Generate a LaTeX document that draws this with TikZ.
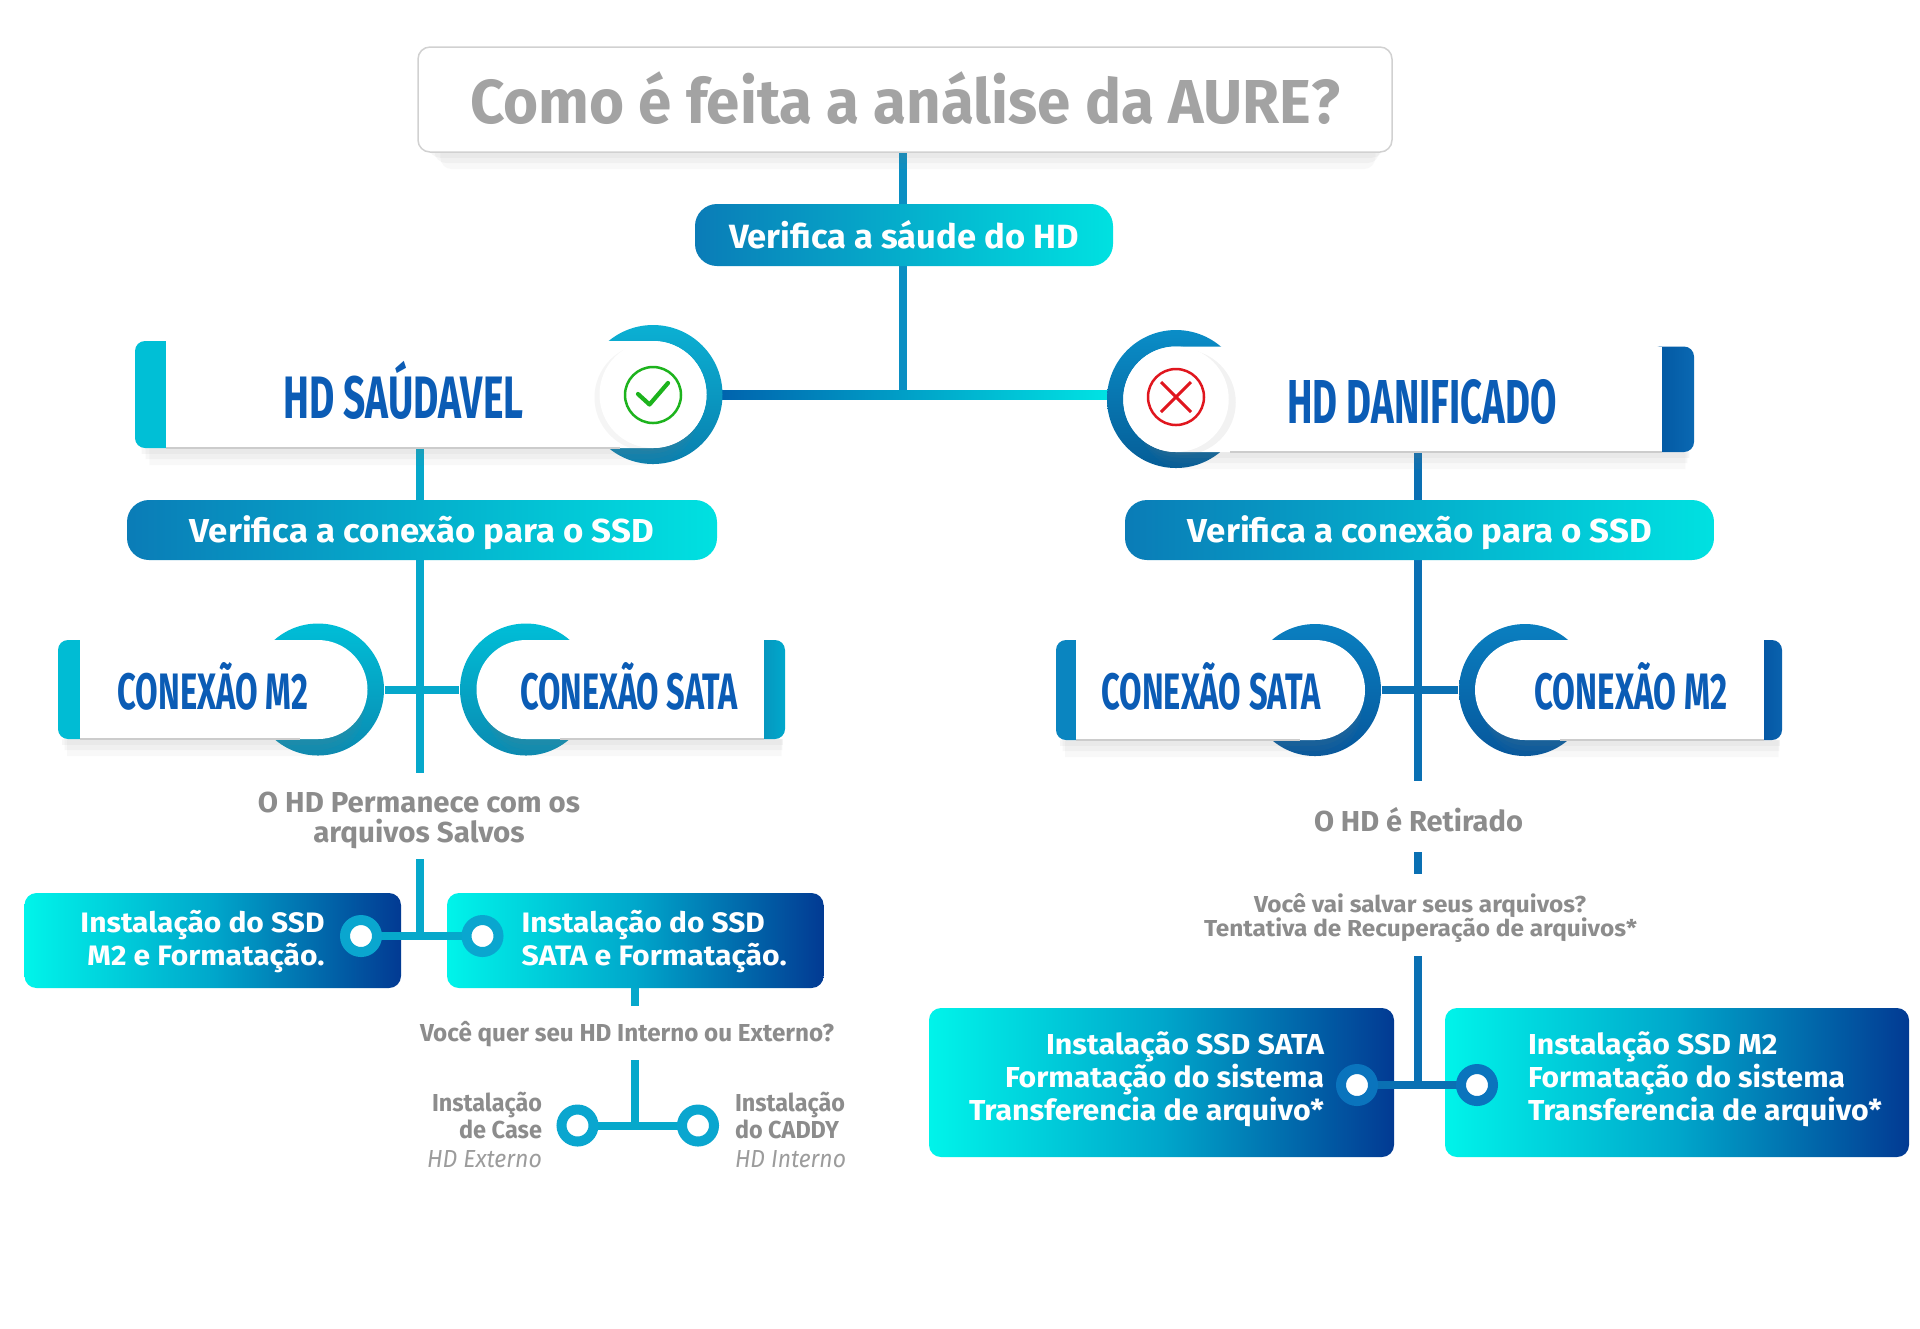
\documentclass[tikz,border=0pt]{standalone}
\usepackage{fontspec}
\usepackage{graphicx}
\setmainfont{Fira Sans}
\usetikzlibrary{shadows,calc}
\newcommand{\fitt}[3]{\resizebox{#1}{#2}{\raisebox{0pt}[\fontcharht\font`\H][0pt]{#3}}}
\definecolor{hblue}{HTML}{0B5CB5}
\definecolor{tgray}{HTML}{8C8C8C}
\definecolor{titlegray}{HTML}{A3A3A3}
\definecolor{lgray}{HTML}{9C9C9C}
\definecolor{pillL}{HTML}{0A7CB7}
\definecolor{pillR}{HTML}{00E1E1}
\definecolor{boxA}{HTML}{00F4EA}
\definecolor{boxB}{HTML}{00A7CB}
\definecolor{boxC}{HTML}{023A93}
\definecolor{tealc}{HTML}{06A8CB}
\definecolor{trunkc}{HTML}{0A8FC3}
\definecolor{rbluec}{HTML}{0A70B3}
\definecolor{hlineL}{HTML}{0062AD}
\definecolor{hlineR}{HTML}{00E4E4}
\definecolor{dotT}{HTML}{0AA6CF}
\definecolor{dotB}{HTML}{0A74BD}
\definecolor{tabS}{HTML}{00BFD6}
\definecolor{tabMtwoL}{HTML}{00BCD4}
\definecolor{tabSALa}{HTML}{0A8CB6}
\definecolor{tabSALb}{HTML}{00A8CC}
\definecolor{tabSAR}{HTML}{0A85C0}
\definecolor{tabMtwoRa}{HTML}{004E9C}
\definecolor{tabMtwoRb}{HTML}{0A62AE}
\definecolor{tabDana}{HTML}{00559F}
\definecolor{tabDanb}{HTML}{0A68B2}
\definecolor{ringAt}{HTML}{0BB0D3}
\definecolor{ringAb}{HTML}{0A7FAE}
\definecolor{ringBt}{HTML}{0A8DC7}
\definecolor{ringBb}{HTML}{055D97}
\definecolor{ringCt}{HTML}{00BED7}
\definecolor{ringCb}{HTML}{0A8AB1}
\definecolor{ringDt}{HTML}{0A7FC0}
\definecolor{ringDb}{HTML}{06579C}
\definecolor{okgreen}{HTML}{1DB31D}
\definecolor{xred}{HTML}{E0161E}
\pgfdeclarelayer{back}
\pgfsetlayers{back,main}
\tikzset{
  conn/.style={line width=0.8mm},
  shadowed/.style={drop shadow={opacity=0.07, shadow scale=0.98, shadow xshift=0.1mm, shadow yshift=-0.7mm},
                   drop shadow={opacity=0.06, shadow scale=0.97, shadow xshift=0.2mm, shadow yshift=-1.3mm},
                   drop shadow={opacity=0.05, shadow scale=0.96, shadow xshift=0.3mm, shadow yshift=-2.0mm}},
  edgeline/.style={black!20, line width=0.15mm},
  lbl/.style={inner sep=0, outer sep=0},
  bt/.style={lbl, font=\bfseries, text=white},
  gt/.style={lbl, font=\bfseries, text=tgray},
  ht/.style={lbl, font=\bfseries, text=hblue},
  itx/.style={lbl, font=\itshape, text=lgray},
  pill/.style={rounded corners=2.2mm, left color=pillL, right color=pillR, inner sep=0},
  gbox/.style={rounded corners=1.2mm, left color=boxA, right color=boxC, middle color=boxB, inner sep=0},
  dotnode/.style={circle, fill=white, line width=1mm, minimum size=3.2mm, inner sep=0},
  ringnode/.style={circle, inner sep=0},
}
\begin{document}
\begin{tikzpicture}[x=0.1mm,y=-0.1mm]
\begin{pgfonlayer}{back}
\fill[white] (0,0) rectangle (1920,1328);
\end{pgfonlayer}
\useasboundingbox (0,0) rectangle (1920,1328);

% ---------- title ----------
\node[draw=black!18, line width=0.15mm, fill=white, rounded corners=1.2mm, minimum width=97.4mm, minimum height=10.5mm, inner sep=0, shadowed] (title) at (905,99.5) {};
\node[lbl, font=\bfseries, text=titlegray, anchor=base] (titleT) at (905,123) {\fitt{87mm}{4.3mm}{Como é feita a análise da AURE?}};

% ---------- pill 1 ----------
\node[pill, minimum width=41.8mm, minimum height=6.2mm] (pill1) at (904,235) {};
\node[bt, anchor=base] (pill1T) at (904,248) {\fitt{35mm}{2.33mm}{Verifica a sáude do HD}};
\coordinate (jtop) at (903,394);

% ---------- HD SAUDAVEL ----------
\node[ringnode, minimum size=13.9mm, top color=ringAt, bottom color=ringAb] (rS) at (653,394.5) {};
\fill[white, shadowed] (135,341) -- (653,341) arc[start angle=-90, end angle=90, radius=53.5] -- (135,448) -- cycle;
\fill[tabS, rounded corners=1mm] (135,341) rectangle (180,448);
\fill[white] (166,341) rectangle (620,448);
\draw[edgeline] (166,448) -- (620,448);
\fill[white, drop shadow={opacity=0.08, shadow xshift=-0.5mm, shadow yshift=-0.3mm}] (653,394.5) circle[radius=53.5];
\draw[okgreen, line width=0.25mm] (653,395) circle[radius=28];
\draw[okgreen, line width=0.42mm, line cap=round, line join=round] (638,394) -- (649.5,404.5) -- (668,383);
\node[ht, anchor=base] (sauT) at (403.5,418.5) {\fitt{24mm}{4.15mm}{HD SAÚDAVEL}};

% ---------- HD DANIFICADO ----------
\node[ringnode, minimum size=13.8mm, top color=ringBt, bottom color=ringBb] (rD) at (1176,399) {};
\fill[white, shadowed] (1176,346.5) -- (1694,346.5) -- (1694,452) -- (1176,452) arc[start angle=90, end angle=270, radius=52.75] -- cycle;
\shade[left color=tabDana, right color=tabDanb, rounded corners=1mm] (1650,346.5) rectangle (1694,452);
\fill[white] (1230,346.5) rectangle (1662,452);
\draw[edgeline] (1230,452) -- (1662,452);
\fill[white, drop shadow={opacity=0.10, shadow xshift=0.7mm, shadow yshift=-0.3mm}] (1176,399.25) circle[radius=52.75];
\draw[xred, line width=0.25mm] (1176,397) circle[radius=28];
\draw[xred, line width=0.3mm] (1161,382) -- (1191,412) (1161,412) -- (1191,382);
\node[ht, anchor=base] (danT) at (1422,423.5) {\fitt{26.9mm}{4.3mm}{HD DANIFICADO}};

% ---------- verifica pills ----------
\node[pill, minimum width=59mm, minimum height=6mm] (pillL) at (422,530) {};
\node[bt, anchor=base] (pillLT) at (422,542) {\fitt{46.4mm}{2.3mm}{Verifica a conexão para o SSD}};
\node[pill, minimum width=58.9mm, minimum height=6mm] (pillR) at (1419.5,530) {};
\node[bt, anchor=base] (pillRT) at (1420,542) {\fitt{46.4mm}{2.3mm}{Verifica a conexão para o SSD}};

% ---------- conexao boxes, left group ----------
\node[ringnode, minimum size=13.2mm, top color=ringCt, bottom color=ringCb] (rMtwoL) at (318,689.5) {};
\fill[white, shadowed] (58,640) -- (318,640) arc[start angle=-90, end angle=90, radius=49.5] -- (58,739) -- cycle;
\fill[tabMtwoL, rounded corners=1mm] (58,640) rectangle (95,739);
\fill[white] (80,640) rectangle (300,739);
\draw[edgeline] (80,739) -- (300,739);
\node[ht, anchor=base] (mtwoLT) at (213,709) {\fitt{19.1mm}{3.55mm}{CONEXÃO M2}};

\node[ringnode, minimum size=13.2mm, top color=ringCt, bottom color=ringCb] (rSAL) at (526,689.5) {};
\fill[white, shadowed] (526,640) -- (785,640) -- (785,739) -- (526,739) arc[start angle=90, end angle=270, radius=49.5] -- cycle;
\shade[left color=tabSALa, right color=tabSALb, rounded corners=1mm] (750,640) rectangle (785,739);
\fill[white] (560,640) rectangle (764,739);
\draw[edgeline] (560,739) -- (764,739);
\node[ht, anchor=base] (saLT) at (629,709) {\fitt{21.8mm}{3.55mm}{CONEXÃO SATA}};

% ---------- conexao boxes, right group ----------
\node[ringnode, minimum size=13.2mm, top color=ringDt, bottom color=ringDb] (rSAR) at (1315,690) {};
\fill[white, shadowed] (1056,640) -- (1315,640) arc[start angle=-90, end angle=90, radius=50] -- (1056,740) -- cycle;
\fill[tabSAR, rounded corners=1mm] (1056,640) rectangle (1092,740);
\fill[white] (1076,640) rectangle (1300,740);
\draw[edgeline] (1076,740) -- (1300,740);
\node[ht, anchor=base] (saRT) at (1211,709) {\fitt{21.9mm}{3.55mm}{CONEXÃO SATA}};

\node[ringnode, minimum size=13.2mm, top color=ringDt, bottom color=ringDb] (rMtwoR) at (1525,690) {};
\fill[white, shadowed] (1525,640) -- (1782,640) -- (1782,740) -- (1525,740) arc[start angle=90, end angle=270, radius=50] -- cycle;
\shade[left color=tabMtwoRa, right color=tabMtwoRb, rounded corners=1mm] (1746,640) rectangle (1782,740);
\fill[white] (1560,640) rectangle (1764,740);
\draw[edgeline] (1560,740) -- (1764,740);
\node[ht, anchor=base] (mtwoRT) at (1631,709) {\fitt{19.3mm}{3.55mm}{CONEXÃO M2}};

% ---------- gray texts ----------
\node[gt, anchor=base] (permA) at (419,812) {\fitt{32.2mm}{2mm}{O HD Permanece com os}};
\node[gt, anchor=base] (permB) at (419,842) {\fitt{21.15mm}{2mm}{arquivos Salvos}};
\node[gt, anchor=base] (retT) at (1418.5,831) {\fitt{20.9mm}{2mm}{O HD é Retirado}};
\node[gt, anchor=base] (salvA) at (1420,912) {\fitt{33.2mm}{1.6mm}{Você vai salvar seus arquivos?}};
\node[gt, anchor=base] (salvB) at (1420.5,936) {\fitt{43.3mm}{1.6mm}{Tentativa de Recuperação de arquivos*}};
\node[gt, anchor=base] (querT) at (627,1041) {\fitt{41.4mm}{1.7mm}{Você quer seu HD Interno ou Externo?}};
\node[gt, anchor=base east] (caseA) at (542,1111) {\fitt{11mm}{1.7mm}{Instalação}};
\node[gt, anchor=base east] (caseB) at (542,1138.5) {\fitt{8.3mm}{1.7mm}{de Case}};
\node[itx, anchor=base east] (caseC) at (542,1167) {\fitt{11.5mm}{1.7mm}{HD Externo}};
\node[gt, anchor=base west] (cadA) at (735,1111) {\fitt{11mm}{1.7mm}{Instalação}};
\node[gt, anchor=base west] (cadB) at (735,1138.5) {\fitt{10.4mm}{1.7mm}{do CADDY}};
\node[itx, anchor=base west] (cadC) at (735,1167) {\fitt{11.1mm}{1.7mm}{HD Interno}};

% ---------- gradient boxes ----------
\node[gbox, minimum width=37.65mm, minimum height=9.5mm] (bone) at (212.75,940.5) {};
\node[gbox, minimum width=37.66mm, minimum height=9.5mm] (btwo) at (635.3,940.5) {};
\node[gbox, minimum width=46.5mm, minimum height=14.9mm] (bthree) at (1161.5,1082.5) {};
\node[gbox, minimum width=46.4mm, minimum height=14.9mm] (bfour) at (1677,1082.5) {};

\node[bt, anchor=base east] (boneA) at (324.5,932) {\fitt{24.4mm}{1.95mm}{Instalação do SSD}};
\node[bt, anchor=base east] (boneB) at (324.5,965) {\fitt{23.7mm}{1.95mm}{M2 e Formatação.}};
\node[bt, anchor=base west] (btwoA) at (521.7,932) {\fitt{24.3mm}{1.95mm}{Instalação do SSD}};
\node[bt, anchor=base west] (btwoB) at (521.7,965) {\fitt{26.5mm}{1.95mm}{SATA e Formatação.}};

\node[bt, anchor=base east] (bthreeA) at (1324,1054) {\fitt{27.8mm}{2mm}{Instalação SSD SATA}};
\node[bt, anchor=base east] (bthreeB) at (1324,1087) {\fitt{31.9mm}{2mm}{Formatação do sistema}};
\node[bt, anchor=base east] (bthreeC) at (1324,1120) {\fitt{35.5mm}{2mm}{Transferencia de arquivo*}};
\node[bt, anchor=base west] (bfourA) at (1528,1054) {\fitt{24.95mm}{2mm}{Instalação SSD M2}};
\node[bt, anchor=base west] (bfourB) at (1528,1087) {\fitt{31.7mm}{2mm}{Formatação do sistema}};
\node[bt, anchor=base west] (bfourC) at (1528,1120) {\fitt{35.4mm}{2mm}{Transferencia de arquivo*}};

% ---------- dots and their links ----------
\coordinate (cone) at (361,936);
\coordinate (ctwo) at (482.5,936);
\coordinate (cthree) at (577.5,1125.5);
\coordinate (cfour) at (698,1125.5);
\coordinate (cfive) at (1357,1085);
\coordinate (csix) at (1477,1085);
\draw[conn, tealc] (cone) -- (ctwo);
\draw[conn, tealc] (cthree) -- (cfour);
\draw[conn, rbluec] (cfive) -- (csix);
\node[dotnode, draw=dotT] (done) at (cone) {};
\node[dotnode, draw=dotT] (dtwo) at (ctwo) {};
\node[dotnode, draw=dotT] (dthree) at (cthree) {};
\node[dotnode, draw=dotT] (dfour) at (cfour) {};
\node[dotnode, draw=dotB] (dfive) at (cfive) {};
\node[dotnode, draw=dotB] (dsix) at (csix) {};

% ---------- connectors behind ----------
\coordinate (lTop) at (420,448);
\coordinate (lEnd) at (420,773);
\coordinate (rTop) at (1418,452);
\coordinate (rEnd) at (1418,781);
\coordinate (rDa) at (1418,852);
\coordinate (rDb) at (1418,874);
\coordinate (rLow) at (1418,956);
\coordinate (lLow) at (420,859);
\coordinate (qA) at (635,985);
\coordinate (qB) at (635,1006);
\coordinate (qC) at (635,1060);
\begin{pgfonlayer}{back}
\draw[conn, trunkc] (title.south -| jtop) -- (jtop);
\shade[left color=hlineL, right color=hlineR] ($(rS.east)+(-5,-4.5)$) rectangle ($(rD.west |- rS.east)+(5,4.5)$);
\draw[conn, tealc] (lTop) -- (lEnd);
\draw[conn, tealc] (rMtwoL.east) -- (rSAL.west);
\draw[conn, rbluec] (rTop) -- (rEnd);
\draw[conn, rbluec] (rSAR.east) -- (rMtwoR.west);
\draw[conn, rbluec] (rDa) -- (rDb);
\draw[conn, rbluec] (rLow) -- (cfive -| rLow);
\draw[conn, tealc] (lLow) -- (cone -| lLow);
\draw[conn, tealc] (qA) -- (qB);
\draw[conn, tealc] (qC) -- (cthree -| qC);
\end{pgfonlayer}
\end{tikzpicture}
\end{document}
